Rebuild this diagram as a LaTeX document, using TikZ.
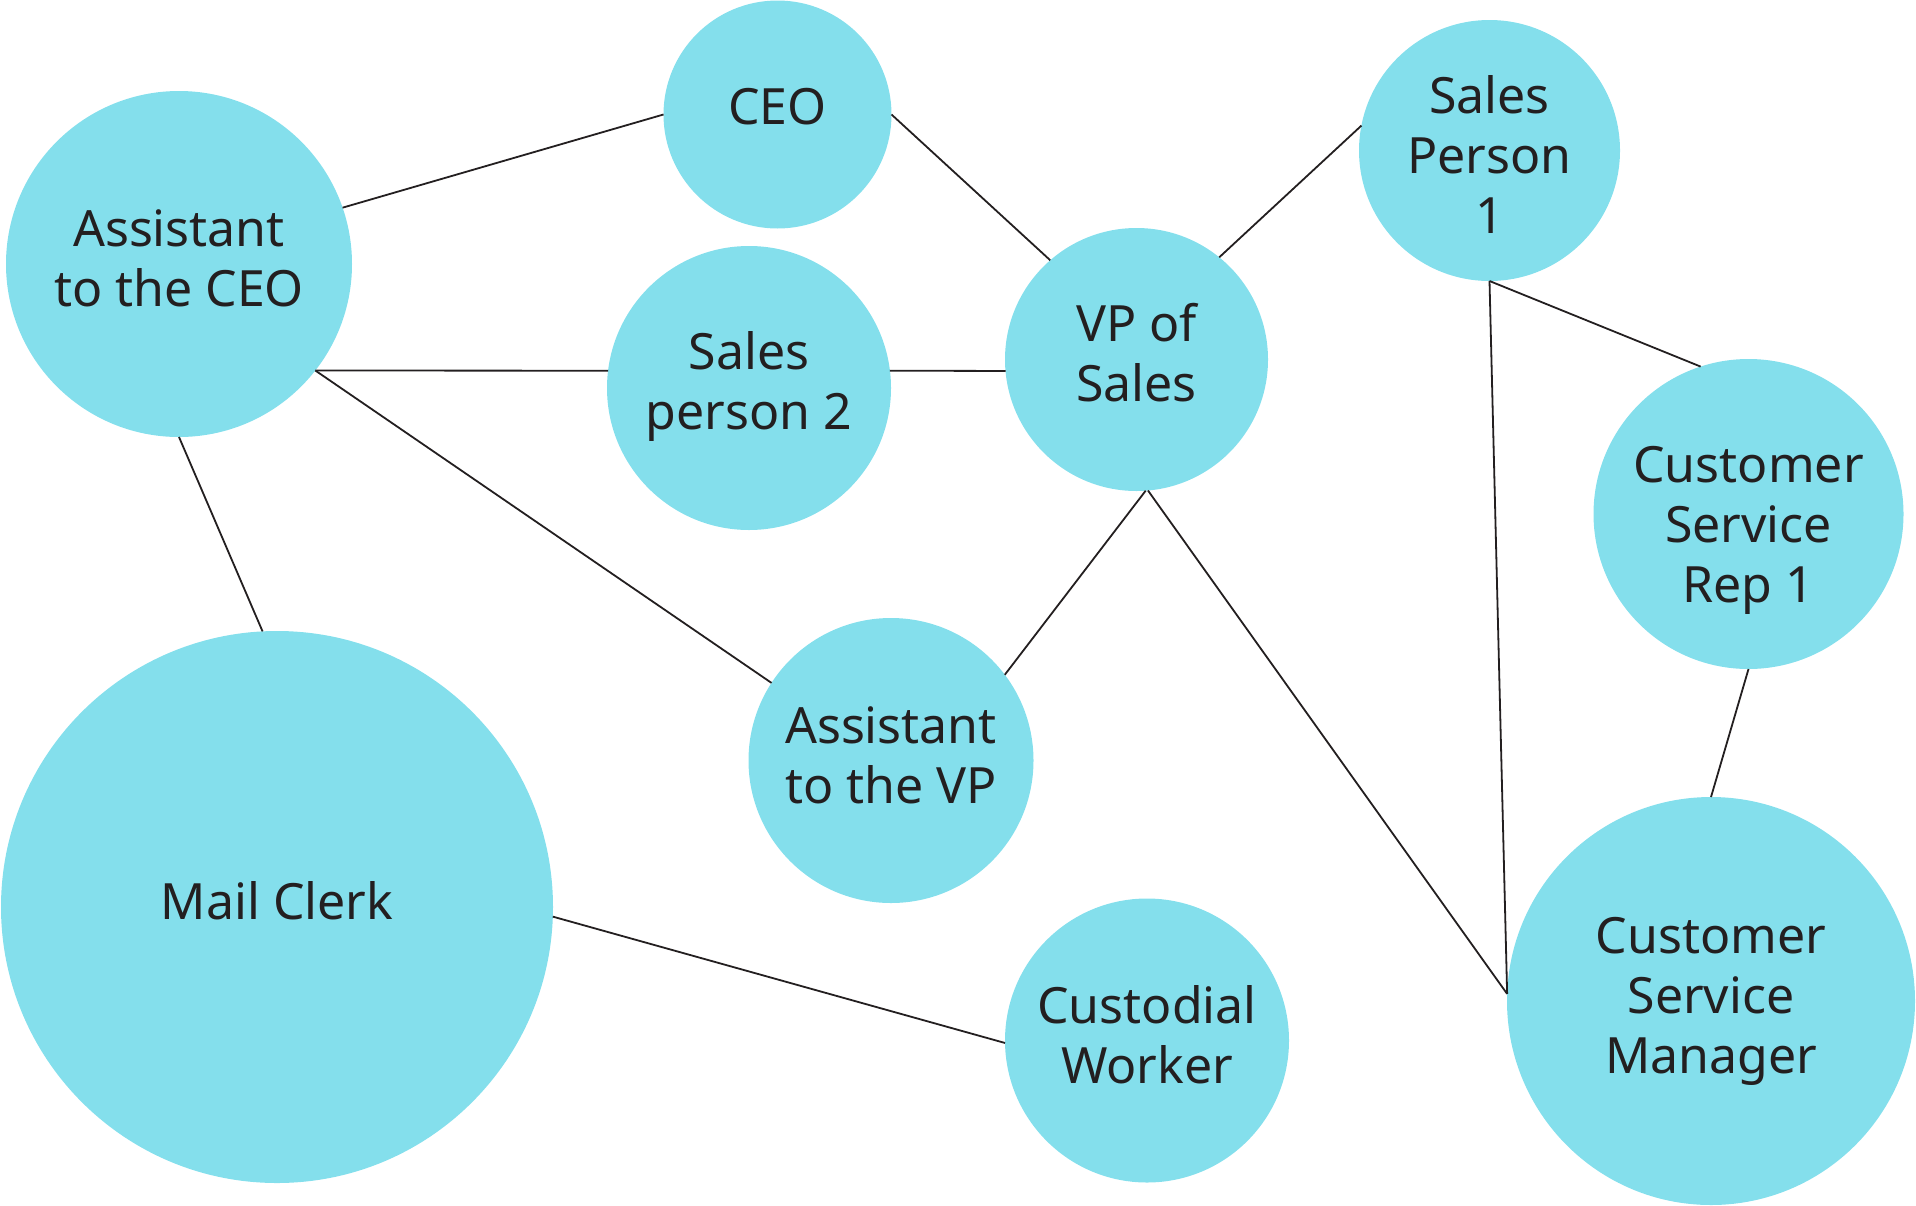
\documentclass[tikz,border=0pt]{standalone}
\usepackage{fontspec}
\setmainfont{Noto Sans}
\definecolor{bub}{HTML}{84DFEC}
\definecolor{ink}{HTML}{231F20}
\begin{document}
\begin{tikzpicture}[x=1pt,y=-1pt,
  bubble/.style={circle,fill=bub,draw=none,inner sep=0pt,outer sep=0pt},
  lbl/.style={inner sep=0pt,align=center,text=ink,font=\fontsize{50}{60}\selectfont},
  link/.style={draw=ink,line width=1.8pt}]
\useasboundingbox (0,0) rectangle (1916,1205);
\node[bubble,minimum size=228pt] (ceo) at (777.5,114.5) {};
\node[bubble,minimum size=346pt] (aceo) at (179,264) {};
\node[bubble,minimum size=284pt] (sp2) at (749,388) {};
\node[bubble,minimum size=263pt] (vp) at (1136.5,359.5) {};
\node[bubble,minimum size=261pt] (sp1) at (1489.5,150.5) {};
\node[bubble,minimum size=310pt] (csr) at (1748.5,514) {};
\node[bubble,minimum size=285pt] (avp) at (891,760.5) {};
\node[bubble,minimum size=552pt] (mail) at (277,907) {};
\node[bubble,minimum size=284pt] (cust) at (1147,1040.5) {};
\node[bubble,minimum size=408pt] (csm) at (1711,1001) {};
\node[lbl,yshift=8pt] (ceot) at (ceo.center) {CEO};
\node[lbl,yshift=6pt] (aceot) at (aceo.center) {Assistant\\to the CEO};
\node[lbl,yshift=2pt] (sp2t) at (sp2.center) {Sales\\person 2};
\node[lbl,yshift=7pt] (vpt) at (vp.center) {VP of\\Sales};
\node[lbl,yshift=-4pt] (sp1t) at (sp1.center) {Sales\\Person\\1};
\node[lbl,yshift=-16pt] (csrt) at (csr.center) {Customer\\Service\\Rep 1};
\node[lbl,yshift=5pt] (avpt) at (avp.center) {Assistant\\to the VP};
\node[lbl,yshift=6pt] (mailt) at (mail.center) {Mail Clerk};
\node[lbl,yshift=6pt] (custt) at (cust.center) {Custodial\\Worker};
\node[lbl,yshift=0pt] (csmt) at (csm.center) {Customer\\Service\\Manager};
\draw[link] (aceo.19) -- (ceo.180);
\draw[link] (ceo.0) -- (vp.131);
\draw[link] (vp.51) -- (sp1.169);
\draw[link] (aceo.-38) -- (sp2.173);
\draw[link] (sp2.7) -- (vp.185);
\draw[link] (aceo.-38) -- (avp.147);
\draw[link] (vp.-86) -- (avp.37);
\draw[link] (vp.-85) -- (csm.178);
\draw[link] (sp1.-90) -- (csm.178);
\draw[link] (sp1.-90) -- (csr.108);
\draw[link] (csr.-90) -- (csm.90);
\draw[link] (aceo.-90) -- (mail.93);
\draw[link] (mail.-2.5) -- (cust.181);
\end{tikzpicture}
\end{document}
